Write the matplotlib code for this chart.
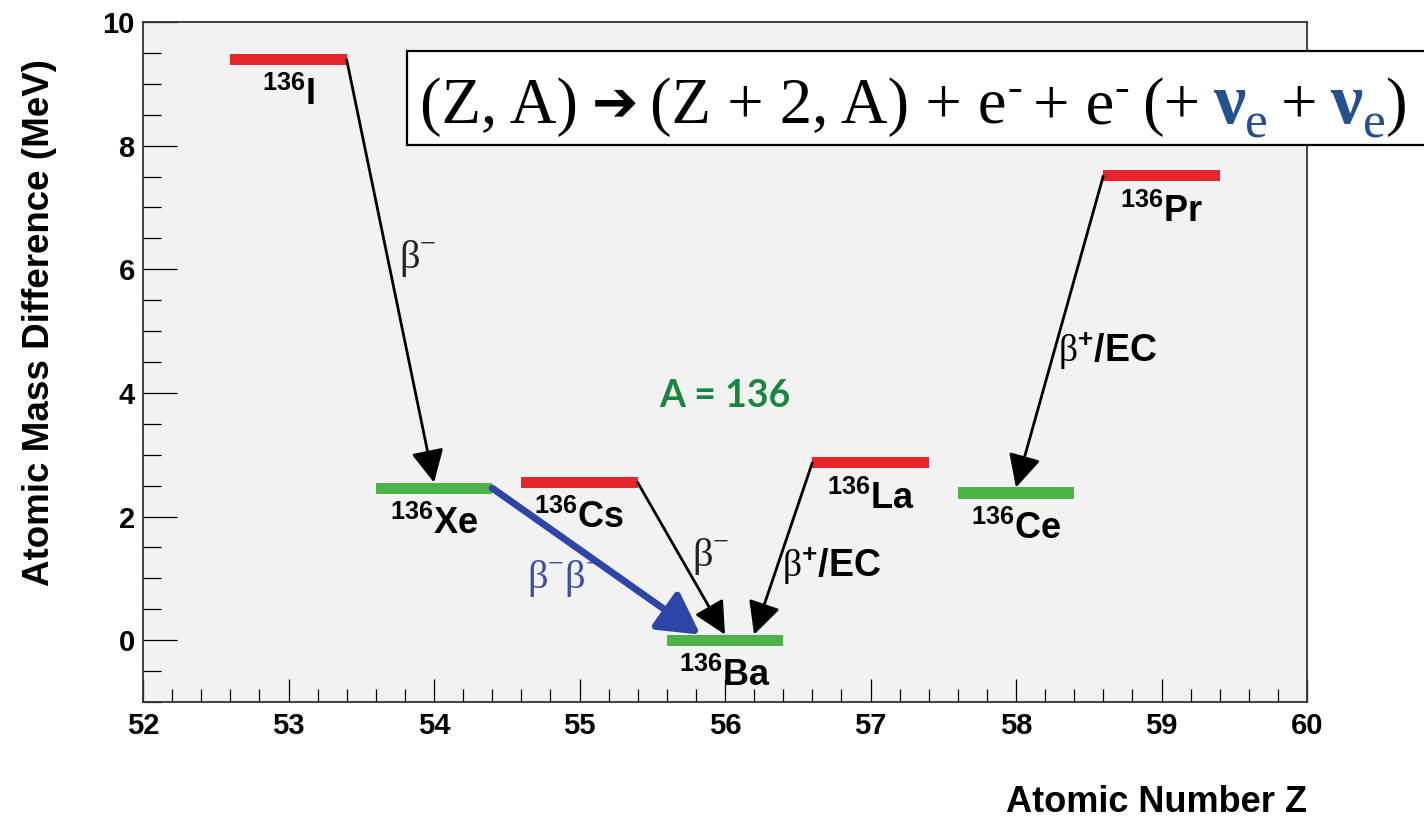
import numpy as np
import matplotlib
matplotlib.use("Agg")
import matplotlib.pyplot as plt
from matplotlib.patches import Rectangle
from matplotlib.ticker import MultipleLocator

# A = 136 isobar chain: atomic number vs. mass difference (MeV)
Z = [53, 54, 55, 56, 57, 58, 59]
elements = ['I', 'Xe', 'Cs', 'Ba', 'La', 'Ce', 'Pr']
mass_diff = [9.39, 2.46, 2.55, 0.0, 2.87, 2.38, 7.51]
stable = [False, True, False, True, False, True, False]

# decays: (parent, daughter, label, x offset on the daughter level)
decays = [
    ('I', 'Xe', 'beta-', 0.0),
    ('Cs', 'Ba', 'beta-', 0.0),
    ('La', 'Ba', 'beta+', 0.2),
    ('Pr', 'Ce', 'beta+', 0.0),
]
double_beta = ('Xe', 'Ba', -0.17)

plt.rcParams['font.family'] = ['Liberation Sans', 'DejaVu Sans']
plt.rcParams['mathtext.fontset'] = 'custom'
plt.rcParams['mathtext.rm'] = 'Liberation Serif:weight=normal'
plt.rcParams['mathtext.sf'] = 'Liberation Sans:bold'
plt.rcParams['mathtext.bf'] = 'Liberation Sans:bold'

RED = '#e8252b'
GREEN = '#4db348'
BLUE = '#2c45a6'
HALF = 0.4
BAR_H = 0.18

fig = plt.figure(figsize=(14.24, 8.19), dpi=100)
ax = fig.add_axes([143 / 1424, 1 - 702 / 819, (1307 - 143) / 1424, (702 - 22) / 819])
ax.set_facecolor('#f2f2f2')

idx = {el: i for i, el in enumerate(elements)}
colors = [GREEN if s else RED for s in stable]
ax.barh(mass_diff, width=2 * HALF, left=np.array(Z) - HALF, height=BAR_H,
        color=colors, zorder=3)

for z, el, m in zip(Z, elements, mass_diff):
    ax.text(z, m - 0.74, r'$^{\mathsf{136}}\mathsf{%s}$' % el, fontsize=26,
            ha='center', va='baseline', zorder=4)

# single decays: start from the end of the parent level facing the daughter
for parent, daughter, kind, off in decays:
    p, d = idx[parent], idx[daughter]
    side = HALF if Z[d] > Z[p] else -HALF
    ax.annotate('', xy=(Z[d] + off, mass_diff[d] + BAR_H / 2),
                xytext=(Z[p] + side, mass_diff[p]),
                arrowprops=dict(arrowstyle='-|>,head_length=0.4,head_width=0.2',
                                lw=2, color='black', mutation_scale=50,
                                shrinkA=0, shrinkB=0), zorder=5)

p, d, off = idx[double_beta[0]], idx[double_beta[1]], double_beta[2]
ax.annotate('', xy=(Z[d] + off, mass_diff[d] + BAR_H / 2),
            xytext=(Z[p] + HALF, mass_diff[p]),
            arrowprops=dict(arrowstyle='-|>,head_length=0.45,head_width=0.25',
                            lw=5, color=BLUE, mutation_scale=55,
                            shrinkA=0, shrinkB=0), zorder=5)

bminus = r'$\mathrm{\beta}^{\mathrm{-}}$'
bplus = r'$\mathrm{\beta}^{\mathsf{+}}\mathsf{/EC}$'
ax.text(53.89, 6.18, bminus, fontsize=29, ha='center', va='center', color='#222222')
ax.text(55.90, 1.36, bminus, fontsize=29, ha='center', va='center', color='#222222')
ax.text(56.73, 1.21, bplus, fontsize=27, ha='center', va='center', color='black')
ax.text(58.63, 4.69, bplus, fontsize=27, ha='center', va='center', color='black')
ax.text(54.90, 1.00, r'$\mathrm{\beta}^{\mathrm{-}}\mathrm{\beta}^{\mathrm{-}}$',
        fontsize=29, ha='center', va='center', color='#3a4ea3')
ax.text(56.0, 3.95, 'A = 136', fontsize=27, family='Lato', fontweight='bold',
        ha='center', va='center', color='#17873f')

ax.set_xlim(52, 60)
ax.set_ylim(-1, 10)
ax.xaxis.set_major_locator(MultipleLocator(1))
ax.xaxis.set_minor_locator(MultipleLocator(0.2))
ax.yaxis.set_major_locator(MultipleLocator(2))
ax.yaxis.set_minor_locator(MultipleLocator(0.5))
ax.tick_params(axis='x', which='major', direction='in', length=16.5, width=0.9,
               labelsize=21, pad=7)
ax.tick_params(axis='x', which='minor', direction='in', length=9.5, width=0.9)
ax.tick_params(axis='y', which='major', direction='in', length=24.5, width=0.9,
               labelsize=21, pad=6)
ax.tick_params(axis='y', which='minor', direction='in', length=13, width=0.9)
for lab in ax.get_xticklabels() + ax.get_yticklabels():
    lab.set_fontweight('bold')
for sp in ax.spines.values():
    sp.set_color('#333333')
    sp.set_linewidth(1.3)

fig.text(1307 / 1424, 1 - 803 / 819, 'Atomic Number Z', fontsize=26,
         fontweight='bold', ha='right', va='center')
fig.text(40 / 1424, 1 - 323 / 819, 'Atomic Mass Difference (MeV)', fontsize=26.5,
         fontweight='bold', rotation=90, ha='center', va='center')

# decay equation in a white box across the top
fig.add_artist(Rectangle((407 / 1424, 1 - 145 / 819), 1100 / 1424, 94 / 819,
                         transform=fig.transFigure, facecolor='white',
                         edgecolor='black', lw=1.6, zorder=1, clip_on=False))

NU = '#24508f'
pieces = [
    # text, size, color, baseline shift (px), family, weight, gap after (px)
    ('(Z, A)', 46.5, 'black', 0, 'Liberation Serif', 'normal', 14),
    ('\u2794', 40, 'black', 3, 'DejaVu Sans', 'bold', 12),
    ('(Z + 2, A) + e', 46.5, 'black', 0, 'Liberation Serif', 'normal', 0),
    ('-', 32, 'black', 22, 'Liberation Serif', 'normal', 11),
    ('+ e', 46.5, 'black', 0, 'Liberation Serif', 'normal', 0),
    ('-', 32, 'black', 22, 'Liberation Serif', 'normal', 13),
    ('(+', 46.5, 'black', 0, 'Liberation Serif', 'normal', 13),
    ('\u03bd', 52, NU, 0, 'Liberation Serif', 'bold', 0),
    ('e', 37, NU, -15, 'Liberation Serif', 'normal', 13),
    ('+', 46.5, 'black', 0, 'Liberation Serif', 'normal', 13),
    ('\u03bd', 52, NU, 0, 'Liberation Serif', 'bold', 0),
    ('e', 37, NU, -15, 'Liberation Serif', 'normal', 1),
    (')', 46.5, 'black', 0, 'Liberation Serif', 'normal', 0),
]
renderer = fig.canvas.get_renderer()
W, H = fig.bbox.width, fig.bbox.height
x_px = 420.0
base_px = H - 123
for s, size, col, dy, fam, wt, gap in pieces:
    t = fig.text(x_px / W, (base_px + dy) / H, s, fontsize=size, color=col,
                 family=fam, fontweight=wt, ha='left', va='baseline', zorder=3)
    bb = t.get_window_extent(renderer)
    x_px = bb.x1 + gap

fig.savefig('out.png', dpi=100, facecolor='white')
